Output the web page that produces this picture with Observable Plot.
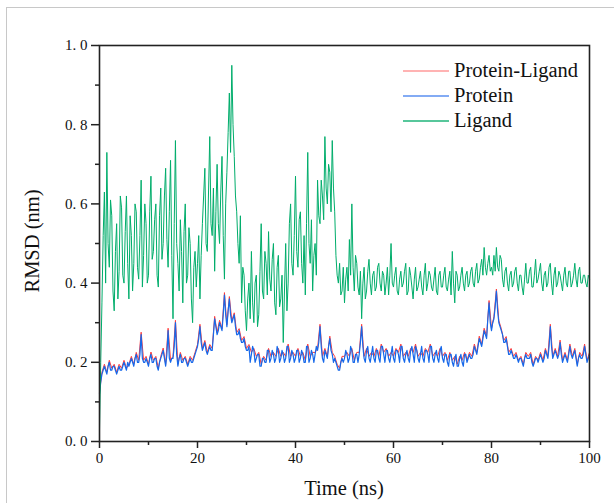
<!DOCTYPE html>
<html>
<head>
<meta charset="utf-8">
<script src="https://cdn.jsdelivr.net/npm/d3@7"></script>
<script src="https://cdn.jsdelivr.net/npm/@observablehq/plot@0.6"></script>
<style>
  html, body { margin: 0; padding: 0; background: #fff; }
  #wrap { position: relative; width: 614px; height: 503px; overflow: hidden; font-family: "Liberation Serif", "DejaVu Serif", serif; color: #111; }
  #border { position: absolute; left: 6px; top: 7px; width: 700px; height: 600px; border-left: 1px solid #c8c8c8; border-top: 1px solid #c8c8c8; }
  #chart { position: absolute; left: 0; top: 0; }
  .xlabel { position: absolute; left: 344px; top: 477px; transform: translateX(-50%); font-size: 20.5px; white-space: nowrap; }
  .ylabel { position: absolute; left: 32px; top: 241px; transform: translate(-50%, -50%) rotate(-90deg); font-size: 20.5px; white-space: nowrap; }
  .legend { position: absolute; left: 403px; top: 58px; font-size: 20.5px; }
  .legend div.row { position: relative; height: 25px; line-height: 25px; white-space: nowrap; padding-left: 51px; }
  .legend svg { position: absolute; left: 0; top: 11px; }
</style>
</head>
<body>
<div id="wrap">
  <div id="border"></div>
  <div id="chart"></div>
  <div class="xlabel">Time (ns)</div>
  <div class="ylabel">RMSD (nm)</div>
  <div class="legend" id="legend"></div>
</div>
<script>
// samples every 0.5 ns (0..100) plus in-between samples at +0.25 ns
const step = 0.5;

const seriesNames = ["Protein-Ligand", "Protein", "Ligand"];
const seriesColors = ["#ff3b3b", "#1668ea", "#00ad6b"];
const legendColors = ["#ff9a9a", "#5a8ff0", "#1fb57a"];

const ligand = [
  0.03, 0.35, 0.63, 0.73, 0.44, 0.57, 0.33, 0.55, 0.43, 0.59,
  0.40, 0.62, 0.36, 0.52, 0.45, 0.58, 0.41, 0.66, 0.47, 0.55,
  0.42, 0.67, 0.48, 0.60, 0.39, 0.64, 0.50, 0.69, 0.44, 0.71,
  0.31, 0.76, 0.45, 0.56, 0.35, 0.60, 0.42, 0.50, 0.30, 0.48,
  0.45, 0.36, 0.55, 0.69, 0.48, 0.77, 0.52, 0.43, 0.70, 0.50,
  0.72, 0.41, 0.68, 0.88, 0.95, 0.72, 0.58, 0.45, 0.35, 0.42,
  0.28, 0.40, 0.48, 0.30, 0.42, 0.32, 0.55, 0.36, 0.45, 0.53,
  0.38, 0.50, 0.32, 0.47, 0.36, 0.25, 0.50, 0.40, 0.60, 0.42,
  0.67, 0.44, 0.58, 0.40, 0.37, 0.73, 0.45, 0.38, 0.50, 0.66,
  0.55, 0.62, 0.77, 0.60, 0.68, 0.76, 0.58, 0.42, 0.45, 0.38,
  0.35, 0.44, 0.51, 0.60, 0.38, 0.45, 0.37, 0.31, 0.44, 0.38,
  0.46, 0.37, 0.43, 0.39, 0.45, 0.38, 0.42, 0.40, 0.37, 0.50,
  0.39, 0.44, 0.37, 0.43, 0.40, 0.45, 0.38, 0.42, 0.36, 0.44,
  0.39, 0.43, 0.37, 0.45, 0.40, 0.42, 0.38, 0.44, 0.37, 0.43,
  0.39, 0.44, 0.38, 0.43, 0.48, 0.35, 0.42, 0.39, 0.44, 0.38,
  0.43, 0.40, 0.44, 0.39, 0.45, 0.41, 0.46, 0.49, 0.42, 0.47,
  0.44, 0.47, 0.49, 0.43, 0.46, 0.39, 0.44, 0.38, 0.43, 0.40,
  0.44, 0.38, 0.42, 0.37, 0.45, 0.40, 0.44, 0.39, 0.46, 0.41,
  0.45, 0.38, 0.43, 0.40, 0.45, 0.37, 0.44, 0.40, 0.42, 0.38,
  0.44, 0.39, 0.43, 0.40, 0.45, 0.39, 0.44, 0.40, 0.42, 0.39,
  0.41
];
const ligandMid = [
  0.20, 0.52, 0.40, 0.50, 0.61, 0.38, 0.48, 0.36, 0.62, 0.42,
  0.53, 0.45, 0.57, 0.38, 0.60, 0.44, 0.52, 0.39, 0.60, 0.40,
  0.58, 0.46, 0.56, 0.42, 0.57, 0.46, 0.62, 0.51, 0.58, 0.47,
  0.55, 0.50, 0.38, 0.48, 0.53, 0.40, 0.54, 0.36, 0.44, 0.39,
  0.52, 0.47, 0.62, 0.50, 0.63, 0.55, 0.64, 0.58, 0.55, 0.63,
  0.52, 0.60, 0.78, 0.73, 0.80, 0.62, 0.50, 0.57, 0.44, 0.33,
  0.36, 0.31, 0.35, 0.40, 0.29, 0.43, 0.38, 0.48, 0.37, 0.41,
  0.46, 0.35, 0.44, 0.34, 0.42, 0.38, 0.33, 0.55, 0.45, 0.52,
  0.48, 0.56, 0.45, 0.52, 0.55, 0.50, 0.56, 0.47, 0.42, 0.57,
  0.66, 0.56, 0.64, 0.70, 0.58, 0.64, 0.47, 0.40, 0.37, 0.44,
  0.41, 0.38, 0.42, 0.44, 0.47, 0.39, 0.43, 0.40, 0.36, 0.43,
  0.40, 0.42, 0.38, 0.44, 0.40, 0.43, 0.37, 0.44, 0.42, 0.40,
  0.42, 0.38, 0.41, 0.39, 0.43, 0.37, 0.44, 0.39, 0.41, 0.38,
  0.41, 0.39, 0.42, 0.38, 0.43, 0.39, 0.41, 0.38, 0.42, 0.39,
  0.42, 0.39, 0.41, 0.37, 0.40, 0.43, 0.38, 0.42, 0.40, 0.42,
  0.39, 0.43, 0.40, 0.43, 0.40, 0.44, 0.42, 0.44, 0.45, 0.43,
  0.42, 0.43, 0.44, 0.47, 0.41, 0.43, 0.40, 0.42, 0.39, 0.43,
  0.40, 0.42, 0.39, 0.41, 0.40, 0.43, 0.39, 0.42, 0.40, 0.43,
  0.40, 0.42, 0.39, 0.44, 0.40, 0.42, 0.39, 0.43, 0.40, 0.42,
  0.40, 0.43, 0.39, 0.42, 0.41, 0.43, 0.40, 0.42, 0.40, 0.42
];

const protein = [
  0.12, 0.17, 0.19, 0.17, 0.20, 0.18, 0.19, 0.17, 0.19, 0.18,
  0.20, 0.18, 0.19, 0.21, 0.19, 0.22, 0.20, 0.27, 0.20, 0.21,
  0.19, 0.22, 0.20, 0.21, 0.18, 0.21, 0.23, 0.19, 0.28, 0.20,
  0.21, 0.30, 0.19, 0.22, 0.20, 0.21, 0.19, 0.21, 0.20, 0.22,
  0.24, 0.29, 0.23, 0.25, 0.22, 0.24, 0.23, 0.31, 0.27, 0.30,
  0.28, 0.37, 0.29, 0.36, 0.30, 0.32, 0.27, 0.28, 0.25, 0.26,
  0.23, 0.24, 0.22, 0.23, 0.21, 0.22, 0.19, 0.21, 0.20, 0.23,
  0.21, 0.22, 0.21, 0.23, 0.21, 0.22, 0.21, 0.24, 0.21, 0.22,
  0.21, 0.23, 0.21, 0.22, 0.20, 0.24, 0.21, 0.22, 0.22, 0.23,
  0.29, 0.21, 0.23, 0.21, 0.26, 0.22, 0.21, 0.19, 0.18, 0.21,
  0.21, 0.22, 0.21, 0.23, 0.20, 0.22, 0.22, 0.29, 0.21, 0.23,
  0.21, 0.22, 0.21, 0.23, 0.21, 0.24, 0.22, 0.23, 0.21, 0.22,
  0.21, 0.23, 0.22, 0.24, 0.21, 0.22, 0.21, 0.23, 0.22, 0.24,
  0.21, 0.22, 0.21, 0.23, 0.22, 0.24, 0.21, 0.22, 0.21, 0.23,
  0.21, 0.22, 0.20, 0.22, 0.20, 0.21, 0.19, 0.21, 0.20, 0.22,
  0.20, 0.22, 0.21, 0.24, 0.22, 0.26, 0.24, 0.28, 0.26, 0.35,
  0.28, 0.31, 0.38, 0.30, 0.28, 0.25, 0.26, 0.22, 0.23, 0.21,
  0.22, 0.20, 0.21, 0.19, 0.22, 0.21, 0.22, 0.19, 0.21, 0.20,
  0.22, 0.20, 0.23, 0.21, 0.29, 0.21, 0.23, 0.21, 0.25, 0.20,
  0.22, 0.20, 0.24, 0.21, 0.23, 0.19, 0.22, 0.21, 0.24, 0.20,
  0.22
];
const proteinMid = [
  0.15, 0.18, 0.18, 0.19, 0.18, 0.19, 0.18, 0.18, 0.18, 0.19,
  0.19, 0.20, 0.20, 0.20, 0.21, 0.20, 0.22, 0.21, 0.20, 0.20,
  0.21, 0.20, 0.21, 0.19, 0.20, 0.22, 0.21, 0.22, 0.21, 0.21,
  0.24, 0.22, 0.21, 0.20, 0.21, 0.20, 0.20, 0.20, 0.21, 0.23,
  0.26, 0.25, 0.24, 0.23, 0.23, 0.23, 0.27, 0.29, 0.28, 0.29,
  0.32, 0.32, 0.33, 0.32, 0.31, 0.29, 0.27, 0.26, 0.25, 0.24,
  0.23, 0.20, 0.24, 0.20, 0.22, 0.19, 0.21, 0.20, 0.23, 0.20,
  0.23, 0.20, 0.24, 0.20, 0.23, 0.20, 0.24, 0.20, 0.23, 0.20,
  0.23, 0.20, 0.23, 0.20, 0.24, 0.20, 0.23, 0.20, 0.24, 0.25,
  0.24, 0.20, 0.22, 0.24, 0.23, 0.20, 0.20, 0.18, 0.20, 0.20,
  0.23, 0.20, 0.24, 0.20, 0.22, 0.20, 0.25, 0.24, 0.20, 0.24,
  0.20, 0.24, 0.20, 0.23, 0.20, 0.24, 0.20, 0.23, 0.20, 0.24,
  0.20, 0.23, 0.20, 0.24, 0.20, 0.23, 0.20, 0.24, 0.20, 0.23,
  0.20, 0.24, 0.20, 0.23, 0.20, 0.24, 0.20, 0.23, 0.20, 0.24,
  0.20, 0.22, 0.19, 0.22, 0.19, 0.22, 0.19, 0.22, 0.19, 0.22,
  0.21, 0.21, 0.22, 0.23, 0.24, 0.25, 0.26, 0.27, 0.31, 0.30,
  0.30, 0.34, 0.33, 0.29, 0.27, 0.25, 0.24, 0.22, 0.22, 0.21,
  0.21, 0.21, 0.20, 0.21, 0.21, 0.21, 0.20, 0.20, 0.21, 0.21,
  0.21, 0.21, 0.22, 0.24, 0.24, 0.22, 0.22, 0.22, 0.22, 0.21,
  0.21, 0.22, 0.22, 0.22, 0.21, 0.21, 0.21, 0.22, 0.22, 0.21
];

const proteinLigand = [
  0.125, 0.175, 0.195, 0.175, 0.205, 0.185, 0.195, 0.175, 0.195, 0.185,
  0.205, 0.185, 0.195, 0.215, 0.195, 0.225, 0.205, 0.276, 0.205, 0.215,
  0.195, 0.226, 0.205, 0.215, 0.185, 0.215, 0.236, 0.195, 0.286, 0.205,
  0.215, 0.306, 0.195, 0.225, 0.205, 0.215, 0.195, 0.215, 0.205, 0.225,
  0.245, 0.296, 0.235, 0.255, 0.225, 0.245, 0.235, 0.316, 0.275, 0.306,
  0.285, 0.376, 0.295, 0.366, 0.305, 0.325, 0.275, 0.285, 0.255, 0.265,
  0.235, 0.245, 0.225, 0.235, 0.215, 0.225, 0.195, 0.215, 0.205, 0.235,
  0.215, 0.225, 0.215, 0.235, 0.215, 0.225, 0.215, 0.246, 0.215, 0.225,
  0.215, 0.235, 0.215, 0.225, 0.205, 0.246, 0.215, 0.225, 0.225, 0.235,
  0.296, 0.215, 0.235, 0.215, 0.266, 0.225, 0.215, 0.195, 0.185, 0.215,
  0.215, 0.225, 0.215, 0.235, 0.205, 0.225, 0.225, 0.296, 0.215, 0.235,
  0.215, 0.225, 0.215, 0.235, 0.215, 0.246, 0.225, 0.235, 0.215, 0.225,
  0.215, 0.235, 0.225, 0.246, 0.215, 0.225, 0.215, 0.235, 0.225, 0.246,
  0.215, 0.225, 0.215, 0.235, 0.225, 0.246, 0.215, 0.225, 0.215, 0.235,
  0.215, 0.225, 0.205, 0.225, 0.205, 0.215, 0.195, 0.215, 0.205, 0.225,
  0.205, 0.225, 0.215, 0.246, 0.225, 0.266, 0.246, 0.286, 0.266, 0.356,
  0.285, 0.316, 0.385, 0.305, 0.285, 0.255, 0.265, 0.225, 0.235, 0.215,
  0.225, 0.205, 0.215, 0.195, 0.225, 0.215, 0.225, 0.195, 0.215, 0.205,
  0.225, 0.205, 0.235, 0.215, 0.296, 0.215, 0.235, 0.215, 0.256, 0.205,
  0.225, 0.205, 0.246, 0.215, 0.235, 0.195, 0.225, 0.215, 0.246, 0.205,
  0.225
];

const xMajorTicks = [0, 20, 40, 60, 80, 100];
const xMinorTicks = [10, 30, 50, 70, 90];
const yMajorTicks = [0, 0.2, 0.4, 0.6, 0.8, 1.0];
const yMinorTicks = [0.1, 0.3, 0.5, 0.7, 0.9];

const toRows = (grid, mid) => {
  const rows = grid.map((v, i) => ({t: i * step, v}));
  if (mid) mid.forEach((v, i) => rows.push({t: i * step + step / 2, v}));
  return rows.sort((a, b) => a.t - b.t);
};

const chart = Plot.plot({
  width: 614,
  height: 503,
  marginLeft: 99,
  marginRight: 25,
  marginTop: 45,
  marginBottom: 62,
  x: {domain: [0, 100]},
  y: {domain: [0, 1]},
  style: {fontFamily: "'Liberation Serif', 'DejaVu Serif', serif", fontSize: "15px", color: "#111", background: "transparent"},
  marks: [
    Plot.lineY(toRows(proteinLigand), {x: "t", y: "v", stroke: seriesColors[0], strokeWidth: 1}),
    Plot.lineY(toRows(protein, proteinMid), {x: "t", y: "v", stroke: seriesColors[1], strokeWidth: 1.2}),
    Plot.lineY(toRows(ligand, ligandMid), {x: "t", y: "v", stroke: seriesColors[2], strokeWidth: 1}),
    Plot.frame({stroke: "#222", strokeWidth: 1.6}),
    Plot.axisX({ticks: xMajorTicks, tickSize: 7, tickPadding: 4, label: null, stroke: "#222", strokeWidth: 1.5, fontSize: 15}),
    Plot.axisX({ticks: xMinorTicks, tickSize: 4, tickFormat: () => "", label: null, stroke: "#222", strokeWidth: 1.5}),
    Plot.axisY({ticks: yMajorTicks, tickSize: 8, tickPadding: 4, label: null, stroke: "#222", strokeWidth: 1.5, fontSize: 15,
      tickFormat: d => d.toFixed(1).replace(".", ". ")}),
    Plot.axisY({ticks: yMinorTicks, tickSize: 4, tickFormat: () => "", label: null, stroke: "#222", strokeWidth: 1.5})
  ]
});
document.getElementById("chart").append(chart);

const legend = document.getElementById("legend");
const svgNS = "http://www.w3.org/2000/svg";
seriesNames.forEach((name, i) => {
  const row = document.createElement("div");
  row.className = "row";
  const svg = document.createElementNS(svgNS, "svg");
  svg.setAttribute("width", "46");
  svg.setAttribute("height", "4");
  const ln = document.createElementNS(svgNS, "line");
  ln.setAttribute("x1", "0"); ln.setAttribute("x2", "46");
  ln.setAttribute("y1", "2"); ln.setAttribute("y2", "2");
  ln.setAttribute("stroke", legendColors[i]);
  ln.setAttribute("stroke-width", "1.6");
  svg.append(ln);
  row.append(svg, document.createTextNode(name));
  legend.append(row);
});
</script>
</body>
</html>
